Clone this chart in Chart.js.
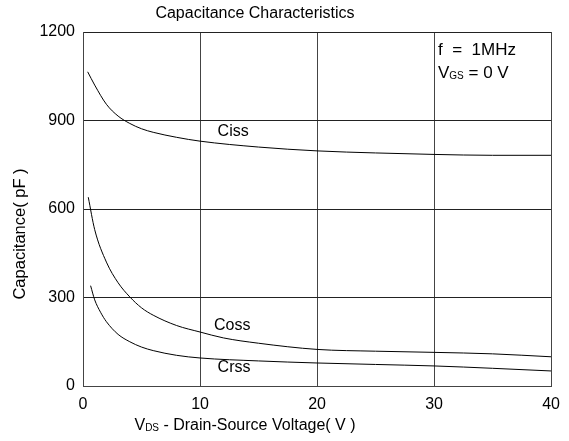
<!DOCTYPE html>
<html>
<head>
<meta charset="utf-8">
<script src="https://cdn.jsdelivr.net/npm/chart.js@4/dist/chart.umd.min.js"></script>
<style>
  body { margin: 0; background: #fff; }
  #wrap { width: 569px; height: 441px; }
</style>
</head>
<body>
<div id="wrap"><canvas id="capChart"></canvas></div>
<script>
// values (V, pF)
const cissV = [0.4, 1, 2, 3, 4, 5, 6, 8, 10, 15, 20, 25, 30, 35, 40];
const cissC = [1065, 1020, 955, 915, 890, 872, 860, 843, 830, 810, 797, 790, 785, 782, 782];

const cossV = [0.45, 1, 2, 3, 4, 5, 6, 8, 10, 12, 15, 20, 25, 30, 35, 40];
const cossC = [640, 530, 420, 350, 302, 265, 240, 205, 183, 163, 145, 124, 118, 114, 109, 99];

const crssV = [0.65, 1, 1.5, 2, 3, 4, 5, 6, 8, 10, 15, 20, 25, 30, 35, 40];
const crssC = [340, 292, 250, 218, 175, 150, 132, 120, 104, 95, 85, 78, 73, 68, 60, 51];

const xTicks = [0, 10, 20, 30, 40];
const yTicks = [0, 300, 600, 900, 1200];

// curve labels placed in data units
const curveLabels = [
  { text: "Ciss", x: 11.5, y: 862 },
  { text: "Coss", x: 11.2, y: 205 },
  { text: "Crss", x: 11.5, y: 62 },
];

function toPoints(xs, ys) {
  return xs.map((v, i) => ({ x: v, y: ys[i] }));
}

const FONT = "'Liberation Sans', Arial, sans-serif";

const textPlugin = {
  id: "textPlugin",
  afterDraw(chart) {
    const ctx = chart.ctx;
    const xs = chart.scales.x;
    const ys = chart.scales.y;
    ctx.save();
    ctx.fillStyle = "#000";
    ctx.textBaseline = "middle";

    // title
    ctx.font = "16px " + FONT;
    ctx.textAlign = "center";
    ctx.fillText("Capacitance Characteristics", 255, 14);

    // curve labels
    ctx.font = "16px " + FONT;
    ctx.textAlign = "left";
    curveLabels.forEach((l) => {
      ctx.fillText(l.text, xs.getPixelForValue(l.x), ys.getPixelForValue(l.y));
    });

    // conditions
    ctx.font = "17px " + FONT;
    ctx.fillText("f  =  1MHz", 438, 50);
    ctx.fillText("V", 438, 73);
    let w = ctx.measureText("V").width;
    ctx.font = "10px " + FONT;
    ctx.fillText("GS", 438 + w, 76);
    w += ctx.measureText("GS").width;
    ctx.font = "17px " + FONT;
    ctx.fillText(" = 0 V", 438 + w, 73);

    // x axis title
    const parts = [
      ["V", "16px", 0],
      ["DS", "10px", 2],
      [" - Drain-Source Voltage( V )", "16px", 0],
    ];
    let total = 0;
    parts.forEach((p) => {
      ctx.font = p[1] + " " + FONT;
      total += ctx.measureText(p[0]).width;
    });
    let cx = 245 - total / 2;
    parts.forEach((p) => {
      ctx.font = p[1] + " " + FONT;
      ctx.fillText(p[0], cx, 426 + p[2]);
      cx += ctx.measureText(p[0]).width;
    });

    // y axis title
    ctx.translate(20, 234);
    ctx.rotate(-Math.PI / 2);
    ctx.textAlign = "center";
    ctx.font = "16.5px " + FONT;
    ctx.fillText("Capacitance( pF )", 0, 0);
    ctx.restore();
  },
};

const lineStyle = {
  showLine: true,
  borderColor: "#000",
  borderWidth: 1,
  pointRadius: 0,
  cubicInterpolationMode: "monotone",
  fill: false,
};

new Chart(document.getElementById("capChart"), {
  type: "scatter",
  data: {
    datasets: [
      { label: "Ciss", data: toPoints(cissV, cissC), ...lineStyle },
      { label: "Coss", data: toPoints(cossV, cossC), ...lineStyle },
      { label: "Crss", data: toPoints(crssV, crssC), ...lineStyle },
    ],
  },
  options: {
    responsive: true,
    maintainAspectRatio: false,
    animation: false,
    layout: { padding: { top: 32, right: 16, left: 0, bottom: 0 } },
    plugins: {
      legend: { display: false },
      tooltip: { enabled: false },
    },
    scales: {
      x: {
        type: "linear",
        min: 0,
        max: 40,
        afterFit: (s) => { s.height = 55; },
        afterBuildTicks: (s) => { s.ticks = xTicks.map((v) => ({ value: v })); },
        grid: { color: "#444", lineWidth: 1, drawTicks: false },
        border: { color: "#444", width: 1 },
        ticks: {
          color: "#000",
          padding: 9,
          font: { family: FONT, size: 16 },
          callback: (v) => String(v),
        },
      },
      y: {
        min: 0,
        max: 1200,
        afterFit: (s) => { s.width = 83; },
        afterBuildTicks: (s) => { s.ticks = yTicks.map((v) => ({ value: v })); },
        grid: { color: "#222", lineWidth: 1, drawTicks: false },
        border: { color: "#444", width: 1 },
        ticks: {
          color: "#000",
          padding: 8,
          font: { family: FONT, size: 16 },
          callback: (v) => String(v),
        },
      },
    },
  },
  plugins: [textPlugin],
});
</script>
</body>
</html>
